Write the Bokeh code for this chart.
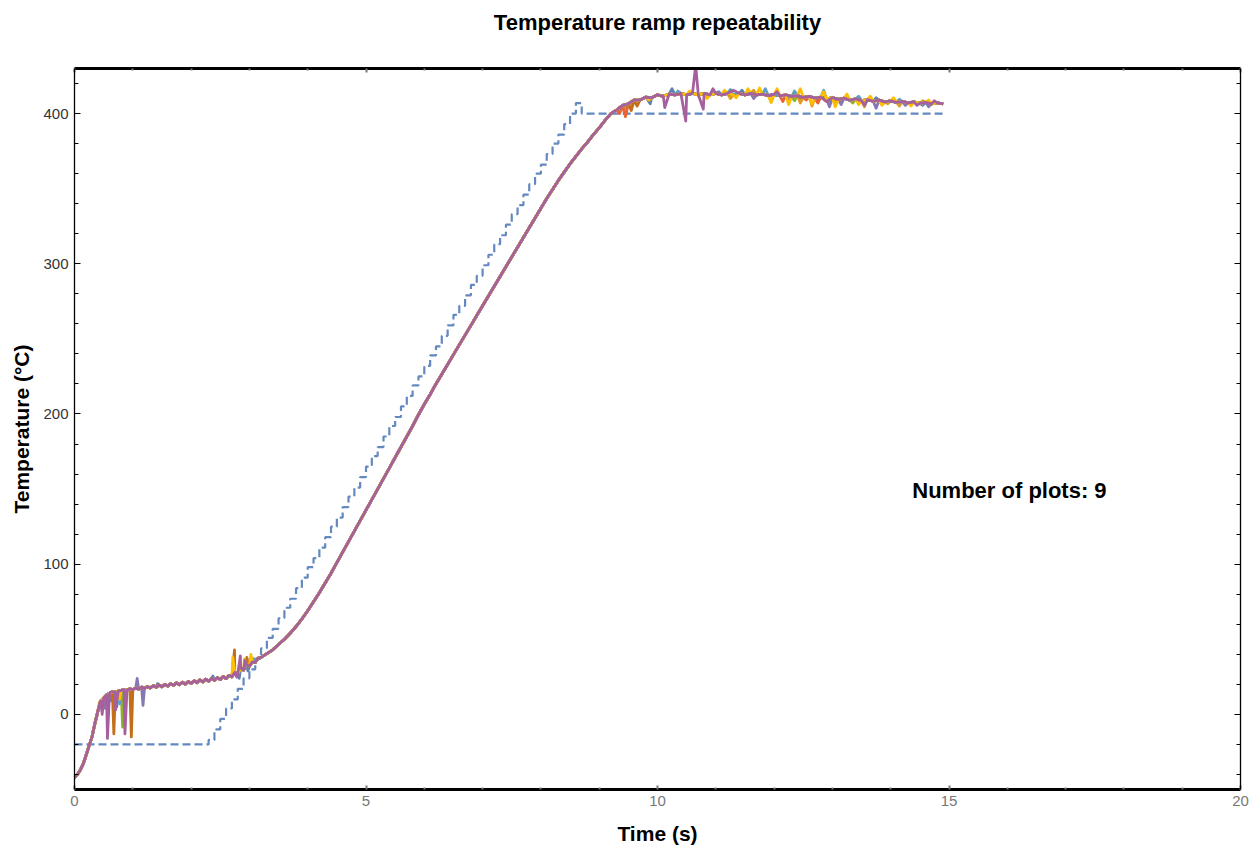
from bokeh.plotting import figure
from bokeh.models import LinearAxis, FixedTicker, Range1d, Label, ColumnDataSource
from bokeh.embed import file_html
from bokeh.resources import INLINE

# ---------------- data ----------------
X_TICKS = [0, 5, 10, 15, 20]
X_MINOR = [1, 2, 3, 4, 6, 7, 8, 9, 11, 12, 13, 14, 16, 17, 18, 19]
Y_TICKS = [0, 100, 200, 300, 400]
Y_MINOR = [-40, -20, 20, 40, 60, 80, 120, 140, 160, 180, 220, 240, 260, 280,
           320, 340, 360, 380, 420]

# sampling grid of the recorded curves (s)
BASE_T = [round(0.05 * i, 2) for i in range(65)] + [round(3.3 + 0.1 * i, 1) for i in range(117)]

# common (mean) temperature trace (degC)
BASE_V = [
    -42, -40, -37, -33, -27, -21, -15, -6, 2, 9,
    11, 13, 14, 15, 15, 15.5, 16, 16.5, 16, 17,
    16.5, 17.5, 16.8, 18.2, 17.2, 18.6, 17.6, 19.2, 18, 19.6,
    18.4, 20, 18.8, 20.5, 19.3, 21, 19.7, 21.4, 20.1, 21.9,
    20.6, 22.4, 21.1, 23, 21.6, 23.5, 22.1, 24, 22.6, 24.6,
    23.2, 25.3, 23.8, 26, 25, 28, 27, 31, 29.5, 33,
    32, 35, 34.5, 37.5, 38,
    # 3.3 .. 9.0
    40.5, 43, 46.5, 50, 54, 58.5, 63.5, 69, 75, 81,
    87.5, 94, 101, 108, 115, 122, 129, 136, 143, 150,
    157, 164, 171, 178, 185, 192, 199.5, 206.5, 213, 220,
    226.5, 233, 239.5, 246, 252.5, 259, 265.5, 272, 278.5, 285,
    291.5, 298, 304.5, 311, 317.5, 324, 330.5, 337, 343.5, 349.5,
    355.5, 361, 366.5, 371.5, 376.5, 381, 386, 390.5,
    # 9.1 .. 14.9
    395.5, 400, 402.5, 405.5, 406.5, 409, 409, 411, 410.5,
    412.5, 411.5, 413, 412.5, 413.5, 412.5, 413.5, 412.5, 413.5, 412.5,
    413.5, 412.5, 413.5, 412.5, 413.5, 412.5, 413.5, 412.5, 413, 412,
    412.8, 411.8, 412.5, 411.3, 412, 410.8, 411.5, 410.3, 411, 409.8,
    410.6, 409.4, 410.2, 409, 409.8, 408.6, 409.3, 408.2, 408.9, 407.8,
    408.5, 407.5, 408.1, 407.1, 407.8, 406.8, 407.5, 406.5, 407.1, 406.5,
]

# individual deviations (time s, temperature degC) of the 9 runs
SPIKES_1 = [(0.475, 3), (0.625, 9), (0.725, 5), (1.425, 20.5), (2.375, 25.5), (2.825, 24),
            (2.975, 29), (3.05, 36.5), (9.875, 406.5), (10.25, 416.5), (11.05, 414.5),
            (11.45, 415.5), (12.75, 409), (13.75, 410.5), (14.55, 405.5)]
SPIKES_2 = [(0.425, 8), (0.575, 6), (2.725, 36), (9.55, 405), (11.25, 410), (11.65, 415.5),
            (11.95, 407.5), (12.45, 407), (12.65, 405), (12.95, 406), (13.15, 407.5),
            (13.55, 404.5), (13.95, 406.5), (14.15, 405), (14.55, 408.5)]
SPIKES_3 = [(0.675, 10), (0.825, -8.5), (9.45, 403.5), (12.35, 408.5), (13.05, 408),
            (13.35, 407)]
SPIKES_4 = [(0.375, -3), (0.725, 9), (9.35, 400), (9.45, 398), (12.15, 408), (12.55, 409),
            (12.75, 407)]
SPIKES_5 = [(0.525, 4), (1.075, 24), (1.175, 6), (11.65, 410), (12.25, 408.5), (12.95, 404.5),
            (13.15, 406), (13.75, 403.5), (14.25, 405.5), (14.65, 404.5)]
SPIKES_6 = [(0.675, -13), (0.975, -15), (2.745, 43), (2.955, 38), (9.55, 402), (9.65, 405),
            (12.45, 410.5), (13.85, 406)]
SPIKES_7 = [(0.775, 7), (3.075, 37), (10.35, 415), (11.25, 416), (11.85, 416.5), (12.35, 415),
            (12.85, 415.5), (13.45, 411.5), (14.15, 409.5)]
SPIKES_8 = [(0.575, 13), (0.775, 10), (2.715, 38), (2.915, 37), (3.025, 40), (9.85, 409),
            (10.55, 415), (10.85, 410), (11.15, 415.5), (11.35, 410.5), (11.55, 416.5),
            (11.75, 417), (11.95, 407.5), (12.05, 416.5), (12.25, 406), (12.45, 416.5),
            (12.65, 406.5), (12.85, 414.5), (13.05, 404.5), (13.25, 413), (13.45, 406),
            (13.65, 411.5), (13.85, 405.5), (14.05, 410.5), (14.35, 405), (14.65, 409)]
SPIKES_9 = [(0.475, 0), (0.565, -16), (0.625, 15), (0.705, 3), (0.865, -13), (2.785, 24.8),
            (2.845, 39), (2.925, 36), (10.125, 404), (10.485, 395), (10.655, 432),
            (10.785, 403), (10.95, 416.5), (11.3, 415.5), (12.05, 414.5), (12.9, 408),
            (13.55, 405.5), (14.45, 405.5), (14.75, 408.5)]
RUNS = [SPIKES_1, SPIKES_2, SPIKES_3, SPIKES_4, SPIKES_5, SPIKES_6, SPIKES_7, SPIKES_8, SPIKES_9]
RUN_COLORS = ["#5E81B5", "#E19C24", "#8FB032", "#EB6235", "#8778B3",
              "#C56E1A", "#5D9EC7", "#FFBF00", "#A5609D"]

# set point (stair-stepped), time s / degC
SET_T = [0, 2.3, 2.4, 2.5, 2.6, 2.7, 2.8, 2.9, 3.0, 3.1, 3.2, 3.3, 3.4, 3.5, 3.6, 3.7, 3.8, 3.9,
         4.0, 4.1, 4.2, 4.3, 4.4, 4.5, 4.6, 4.7, 4.8, 4.9, 5.0, 5.1, 5.2, 5.3, 5.4, 5.5, 5.6,
         5.7, 5.8, 5.9, 6.0, 6.1, 6.2, 6.3, 6.4, 6.5, 6.6, 6.7, 6.8, 6.9, 7.0, 7.1, 7.2, 7.3,
         7.4, 7.5, 7.6, 7.7, 7.8, 7.9, 8.0, 8.1, 8.2, 8.3, 8.4, 8.5, 8.6, 8.7, 14.95]
SET_V = [-20, -17, -10, -3, 4, 10, 17, 24, 30, 37, 44, 51, 57, 64, 71, 77, 84, 91,
         98, 104, 111, 118, 125, 131, 138, 145, 151, 158, 165, 172, 178, 185, 192, 198, 205,
         212, 219, 225, 232, 239, 245, 252, 259, 266, 272, 279, 286, 292, 299, 306, 313, 319,
         326, 333, 339, 346, 353, 360, 366, 373, 380, 386, 393, 400, 407, 400, 400]

TITLE = "Temperature ramp repeatability"
X_LABEL = "Time (s)"
Y_LABEL = "Temperature (°C)"
NOTE = "Number of plots: 9"
NOTE_POS = (14.37, 149)

assert len(BASE_T) == len(BASE_V)
assert len(SET_T) == len(SET_V)


def run_series(spikes):
    d = {round(t, 3): v for t, v in zip(BASE_T, BASE_V)}
    for t, v in spikes:
        d[round(t, 3)] = v
    ts = sorted(d)
    return ts, [d[t] for t in ts]


FONT = "Liberation Sans"

p = figure(width=1251, height=847, output_backend="svg", toolbar_location=None,
           x_range=Range1d(0, 20), y_range=Range1d(-50, 430),
           x_axis_type=None, y_axis_type=None,
           min_border_left=74, min_border_right=11, min_border_top=68, min_border_bottom=57)
p.outline_line_color = None
p.background_fill_color = "white"
p.border_fill_color = "white"
p.grid.visible = False

xt = FixedTicker(ticks=X_TICKS, minor_ticks=X_MINOR)
yt = FixedTicker(ticks=Y_TICKS, minor_ticks=Y_MINOR)

bottom = LinearAxis(ticker=xt, axis_label=X_LABEL)
bottom.axis_line_width = 3
bottom.axis_line_color = "black"
bottom.major_tick_in = 4
bottom.major_tick_out = 0
bottom.minor_tick_in = 2
bottom.minor_tick_out = 0
bottom.major_tick_line_color = "#777777"
bottom.minor_tick_line_color = "#777777"
bottom.major_tick_line_width = 2
bottom.minor_tick_line_width = 2
bottom.major_label_text_color = "#777777"
bottom.major_label_text_font = FONT
bottom.major_label_text_font_size = "15px"
bottom.major_label_standoff = 6
bottom.axis_label_text_font = FONT
bottom.axis_label_text_font_size = "21px"
bottom.axis_label_text_font_style = "bold"
bottom.axis_label_text_color = "black"
bottom.axis_label_standoff = 13
p.add_layout(bottom, "below")

left = LinearAxis(ticker=yt, axis_label=Y_LABEL)
left.axis_line_width = 1.3
left.axis_line_color = "black"
left.major_tick_in = 6
left.major_tick_out = 0
left.minor_tick_in = 4
left.minor_tick_out = 0
left.major_tick_line_color = "black"
left.minor_tick_line_color = "black"
left.major_label_text_color = "#333333"
left.major_label_text_font = FONT
left.major_label_text_font_size = "15px"
left.major_label_standoff = 6
left.axis_label_text_font = FONT
left.axis_label_text_font_size = "21px"
left.axis_label_text_font_style = "bold"
left.axis_label_text_color = "black"
left.axis_label_standoff = 7
p.add_layout(left, "left")

# top frame edge; its axis label carries the chart title
top = LinearAxis(ticker=xt, axis_label=TITLE)
top.axis_line_width = 3
top.axis_line_color = "black"
top.major_tick_in = 4
top.major_tick_out = 0
top.minor_tick_in = 2
top.minor_tick_out = 0
top.major_tick_line_color = "#777777"
top.minor_tick_line_color = "#777777"
top.major_tick_line_width = 2
top.minor_tick_line_width = 2
top.major_label_text_color = None
top.major_label_text_font_size = "15px"
top.major_label_standoff = 5
top.axis_label_text_font = FONT
top.axis_label_text_font_size = "22px"
top.axis_label_text_font_style = "bold"
top.axis_label_text_color = "black"
top.axis_label_standoff = 34
p.add_layout(top, "above")

right = LinearAxis(ticker=yt)
right.axis_line_width = 1.3
right.axis_line_color = "black"
right.major_tick_in = 6
right.major_tick_out = 0
right.minor_tick_in = 4
right.minor_tick_out = 0
right.major_tick_line_color = "black"
right.minor_tick_line_color = "black"
right.major_label_text_color = None
p.add_layout(right, "right")

# set point
p.step(SET_T, SET_V, mode="after", line_color="#6489C0", line_width=2.2, line_dash="8 4")

# recorded runs
for spikes, color in zip(RUNS, RUN_COLORS):
    ts, vs = run_series(spikes)
    src = ColumnDataSource(dict(t=ts, v=vs))
    p.line("t", "v", source=src, line_color=color, line_width=2.8, line_join="round")

note = Label(x=NOTE_POS[0], y=NOTE_POS[1], text=NOTE, text_font=FONT, text_font_size="22px",
             text_font_style="bold", text_color="black", text_align="left", text_baseline="middle")
p.add_layout(note)

open("out.html", "w").write(file_html(p, INLINE))
